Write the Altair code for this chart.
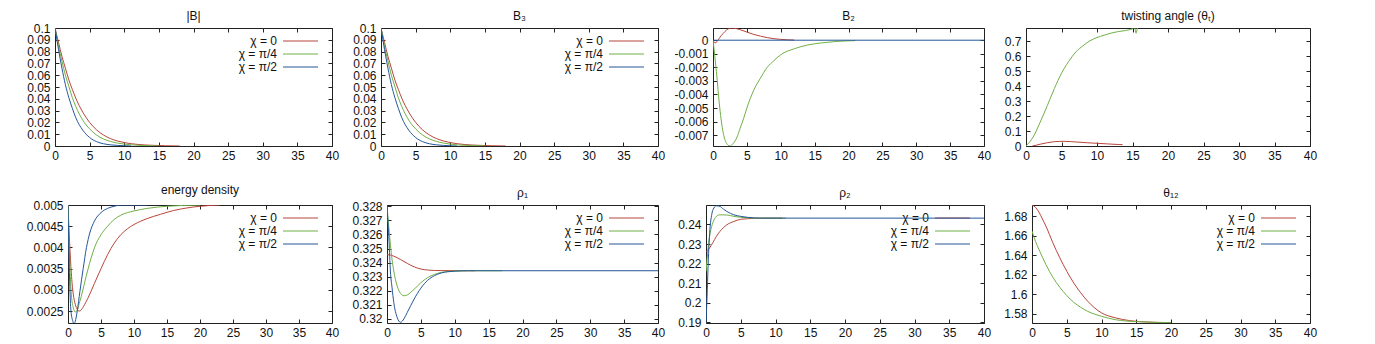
import altair as alt
import pandas as pd

FONT = "Liberation Sans"
FS = 12
NAMES = ["χ = 0", "χ = π/4", "χ = π/2"]
COLORS = ["#b8453a", "#70b046", "#24579a"]
XTICKS = [0, 5, 10, 15, 20, 25, 30, 35, 40]

# ---------------- |B| ----------------
absB_r_x = [0, 0.5, 1, 1.5, 2, 2.5, 3, 4, 5, 6, 7, 8, 9, 10, 12, 14, 16, 18]
absB_r_y = [0.1, 0.088, 0.076, 0.066, 0.056, 0.048, 0.0405, 0.0288, 0.020, 0.0137, 0.0093, 0.0063, 0.0043, 0.0029, 0.0013, 0.0006, 0.0002, 0.0]
absB_g_x = [0, 0.5, 1, 1.5, 2, 2.5, 3, 4, 5, 6, 7, 8, 9, 10, 12, 14, 15]
absB_g_y = [0.1, 0.085, 0.072, 0.06, 0.0505, 0.041, 0.0335, 0.022, 0.0145, 0.0093, 0.006, 0.0039, 0.0025, 0.0016, 0.0006, 0.0002, 0.0]
absB_b_x = [0, 0.5, 1, 1.5, 2, 2.5, 3, 4, 5, 6, 7, 8, 9, 10, 11]
absB_b_y = [0.1, 0.082, 0.066, 0.052, 0.041, 0.032, 0.024, 0.0135, 0.0072, 0.0037, 0.0019, 0.001, 0.0005, 0.0002, 0.0]

# ---------------- B3 ----------------
B3_r_x = [0, 0.5, 1, 1.5, 2, 2.5, 3, 4, 5, 6, 7, 8, 9, 10, 12, 14, 16, 18]
B3_r_y = [0.1, 0.088, 0.076, 0.066, 0.056, 0.048, 0.0405, 0.0288, 0.020, 0.0137, 0.0093, 0.0063, 0.0043, 0.0029, 0.0013, 0.0006, 0.0002, 0.0]
B3_g_x = [0, 0.5, 1, 1.5, 2, 2.5, 3, 4, 5, 6, 7, 8, 9, 10, 12, 14, 15]
B3_g_y = [0.1, 0.085, 0.072, 0.06, 0.0505, 0.041, 0.0335, 0.022, 0.0145, 0.0093, 0.006, 0.0039, 0.0025, 0.0016, 0.0006, 0.0002, 0.0]
B3_b_x = [0, 0.5, 1, 1.5, 2, 2.5, 3, 4, 5, 6, 7, 8, 9, 10, 11]
B3_b_y = [0.1, 0.082, 0.066, 0.052, 0.041, 0.032, 0.024, 0.0135, 0.0072, 0.0037, 0.0019, 0.001, 0.0005, 0.0002, 0.0]

# ---------------- B2 ----------------
B2_r_x = [0, 0.3, 0.6, 1, 1.5, 2, 2.7, 3.5, 4, 5, 6, 7, 8, 9, 10, 11, 12]
B2_r_y = [0.0, -0.0002, -0.0001, 0.0002, 0.0005, 0.00075, 0.0009, 0.00085, 0.00078, 0.0006, 0.00043, 0.0003, 0.00019, 0.00011, 0.00006, 0.00003, 0.00001]
B2_g_x = [0, 0.25, 0.5, 0.75, 1, 1.5, 2, 2.5, 3, 3.5, 4, 4.5, 5, 6, 7, 8, 9, 10, 12, 14, 16, 18, 21]
B2_g_y = [0.0, -0.0011, -0.0023, -0.0037, -0.005, -0.0068, -0.0076, -0.0078, -0.0076, -0.0072, -0.0065, -0.0058, -0.005, -0.0037, -0.0028, -0.002, -0.0015, -0.00107, -0.00063, -0.00035, -0.0002, -0.0001, -0.00003]
B2_b_x = [0, 40]
B2_b_y = [0.0, 0.0]

# ---------------- twisting angle ----------------
tw_r_x = [0.9, 1.5, 2, 3, 4, 4.7, 5.5, 7, 8.5, 10, 11.5, 13, 13.6]
tw_r_y = [0.0, 0.006, 0.012, 0.022, 0.029, 0.031, 0.031, 0.027, 0.022, 0.018, 0.014, 0.010, 0.009]
tw_g_x = [0, 1, 2, 3, 4, 5, 6, 7, 8, 9, 10, 11, 12, 13, 14, 14.5, 15, 15.3, 15.5, 15.7, 15.9]
tw_g_y = [0.0, 0.06, 0.16, 0.27, 0.385, 0.487, 0.565, 0.628, 0.67, 0.704, 0.726, 0.742, 0.756, 0.766, 0.773, 0.778, 0.785, 0.795, 0.755, 0.79, 0.80]

# ---------------- energy density ----------------
en_r_x = [0, 0.25, 0.5, 0.8, 1.1, 1.4, 1.7, 2.0, 2.5, 3, 4, 5, 6, 7, 8, 9, 10, 12, 14, 16, 18, 20, 23]
en_r_y = [0.005, 0.0041, 0.0034, 0.0029, 0.00266, 0.00254, 0.0025, 0.00253, 0.00265, 0.0028, 0.00315, 0.0035, 0.00383, 0.0041, 0.0043, 0.00444, 0.00454, 0.00468, 0.00478, 0.00487, 0.00493, 0.00497, 0.005]
en_g_x = [0, 0.15, 0.3, 0.5, 0.8, 1.1, 1.4, 1.7, 2, 2.5, 3, 3.5, 4, 5, 6, 7, 8, 9, 10, 12, 15, 20]
en_g_y = [0.005, 0.0042, 0.0035, 0.0029, 0.00258, 0.00248, 0.00252, 0.00268, 0.00284, 0.00316, 0.00347, 0.00375, 0.00399, 0.0043, 0.0045, 0.00466, 0.00476, 0.00482, 0.00486, 0.00492, 0.00497, 0.005]
en_b_x = [0, 0.1, 0.25, 0.45, 0.7, 0.9, 1.1, 1.4, 1.8, 2.3, 2.8, 3.3, 4, 5, 6, 7, 8, 12]
en_b_y = [0.005, 0.0042, 0.0032, 0.0025, 0.00228, 0.0022, 0.00226, 0.0025, 0.00296, 0.0035, 0.004, 0.00434, 0.00462, 0.00482, 0.00492, 0.00497, 0.005, 0.005]

# ---------------- rho1 ----------------
r1_r_x = [0, 1, 2, 3, 4, 5, 6, 7, 8, 13]
r1_r_y = [0.32458, 0.32446, 0.32422, 0.32394, 0.3237, 0.32354, 0.32347, 0.32344, 0.32343, 0.32342]
r1_g_x = [0, 0.25, 0.5, 0.75, 1, 1.5, 2, 2.5, 3, 3.5, 4, 5, 6, 7, 8, 9, 10, 12, 17]
r1_g_y = [0.328, 0.3266, 0.3253, 0.3242, 0.3234, 0.32234, 0.3218, 0.32164, 0.3217, 0.32188, 0.3221, 0.32257, 0.32293, 0.32316, 0.3233, 0.32337, 0.3234, 0.32342, 0.32342]
r1_b_x = [0, 0.15, 0.3, 0.5, 0.75, 1, 1.5, 2, 2.5, 3, 4, 5, 6, 7, 8, 9, 10, 12, 40]
r1_b_y = [0.328, 0.3268, 0.3255, 0.3234, 0.3222, 0.32117, 0.3201, 0.31975, 0.32, 0.32046, 0.3214, 0.32218, 0.32274, 0.32307, 0.32326, 0.32335, 0.32339, 0.32342, 0.32342]

# ---------------- rho2 ----------------
r2_r_x = [0, 0.5, 1, 1.5, 2, 2.5, 3, 4, 5, 6, 7, 8, 11]
r2_r_y = [0.2257, 0.2279, 0.2308, 0.2339, 0.2364, 0.2383, 0.2398, 0.2415, 0.2426, 0.2429, 0.2431, 0.2432, 0.2432]
r2_g_x = [0, 0.15, 0.3, 0.6, 1, 1.5, 2, 3, 4, 5, 6, 7, 11.5]
r2_g_y = [0.216, 0.222, 0.228, 0.2356, 0.241, 0.2441, 0.2449, 0.2448, 0.2441, 0.2436, 0.2434, 0.2432, 0.2432]
r2_b_x = [0, 0.15, 0.3, 0.45, 0.6, 0.8, 1, 1.5, 2, 2.5, 3, 4, 5, 6, 8, 40]
r2_b_y = [0.1897, 0.203, 0.2186, 0.231, 0.239, 0.2445, 0.2475, 0.2495, 0.2492, 0.2478, 0.2466, 0.2449, 0.2441, 0.2436, 0.2432, 0.2432]

# ---------------- theta12 ----------------
t12_r_x = [0, 0.5, 1, 1.5, 2, 3, 4, 5, 6, 7, 8, 9, 10, 12, 14, 16, 18, 20]
t12_r_y = [1.6912, 1.689, 1.684, 1.677, 1.6697, 1.6526, 1.6372, 1.6235, 1.6115, 1.6014, 1.5928, 1.5859, 1.5808, 1.5757, 1.5729, 1.5716, 1.571, 1.5708]
t12_g_x = [0, 0.5, 1, 2, 3, 4, 5, 6, 7, 8, 10, 12, 15, 20]
t12_g_y = [1.6646, 1.654, 1.6458, 1.6303, 1.6173, 1.607, 1.5985, 1.5916, 1.5865, 1.5824, 1.5773, 1.5738, 1.5718, 1.5708]

# tick values
yt_B = [0, 0.01, 0.02, 0.03, 0.04, 0.05, 0.06, 0.07, 0.08, 0.09, 0.1]
yt_B2 = [0, -0.001, -0.002, -0.003, -0.004, -0.005, -0.006, -0.007]
yt_tw = [0, 0.1, 0.2, 0.3, 0.4, 0.5, 0.6, 0.7]
yt_en = [0.0025, 0.003, 0.0035, 0.004, 0.0045, 0.005]
yt_r1 = [0.32, 0.321, 0.322, 0.323, 0.324, 0.325, 0.326, 0.327, 0.328]
yt_r2 = [0.19, 0.2, 0.21, 0.22, 0.23, 0.24]
yt_t12 = [1.58, 1.6, 1.62, 1.64, 1.66, 1.68]

H = 118
LBL = "'' + datum.value"


def panel(title, series, ydom, yticks, W, legend=True, title_y=-8):
    rows = []
    for name, xs, ys in series:
        for a, b in zip(xs, ys):
            rows.append({"x": a, "y": b, "s": name})
    df = pd.DataFrame(rows)
    xsc = alt.Scale(domain=[0, 40], nice=False, zero=False)
    ysc = alt.Scale(domain=ydom, nice=False, zero=False)
    col = alt.Color("s:N", scale=alt.Scale(domain=NAMES, range=COLORS), legend=None)
    base = alt.Chart(df)
    lines = base.mark_line(strokeWidth=1, clip=True, interpolate="monotone").encode(
        x=alt.X("x:Q", scale=xsc, axis=alt.Axis(orient="bottom", values=XTICKS, labelExpr=LBL,
                                                 tickSize=4, offset=-4, labelPadding=4,
                                                 labelOverlap=False, labelFlush=False,
                                                 domain=False, grid=False, title=None)),
        y=alt.Y("y:Q", scale=ysc, axis=alt.Axis(orient="left", values=yticks, labelExpr=LBL,
                                                 tickSize=4, offset=-4, labelPadding=5,
                                                 labelOverlap=False, labelFlush=False,
                                                 domain=False, grid=False, title=None)),
        color=col,
    )
    ghost = base.mark_line(opacity=0).encode(
        x=alt.X("x:Q", scale=xsc, axis=alt.Axis(orient="top", values=XTICKS, labels=False,
                                                 tickSize=4, offset=-4, domain=False, grid=False,
                                                 title=None, minExtent=0, maxExtent=0)),
        y=alt.Y("y:Q", scale=ysc, axis=alt.Axis(orient="right", values=yticks, labels=False,
                                                 tickSize=4, offset=-4, domain=False, grid=False,
                                                 title=None, minExtent=0, maxExtent=0)),
        detail="s:N",
    )
    ttl = alt.Chart(pd.DataFrame({"t": [title]})).mark_text(
        align="center", baseline="alphabetic", fontSize=FS, font=FONT, color="#111"
    ).encode(text="t:N", x=alt.value(W / 2), y=alt.value(title_y))
    layers = [ttl]
    if legend:
        for i, (name, c) in enumerate(zip(NAMES, COLORS)):
            yy = 13 + 13 * i
            d = pd.DataFrame({"t": [name]})
            layers.append(alt.Chart(d).mark_text(align="right", baseline="middle", fontSize=FS,
                                                 font=FONT, color="#111").encode(
                text="t:N", x=alt.value(W - 55), y=alt.value(yy)))
            layers.append(alt.Chart(d).mark_rule(color=c, strokeWidth=1).encode(
                x=alt.value(W - 49), x2=alt.value(W - 14), y=alt.value(yy)))
    layers += [lines, ghost]
    return alt.layer(*layers).resolve_axis(x="independent", y="independent").properties(
        width=W, height=H)


def spacer(w):
    return alt.Chart(pd.DataFrame({"a": [0]})).mark_point(opacity=0).encode(
        x=alt.value(0), y=alt.value(0)
    ).properties(width=w, height=1, view=alt.ViewBackground(stroke="transparent", fill="transparent"))


p1 = panel("|B|", [(NAMES[0], absB_r_x, absB_r_y), (NAMES[1], absB_g_x, absB_g_y), (NAMES[2], absB_b_x, absB_b_y)],
           [0, 0.1], yt_B, 277)
p2 = panel("B₃", [(NAMES[0], B3_r_x, B3_r_y), (NAMES[1], B3_g_x, B3_g_y), (NAMES[2], B3_b_x, B3_b_y)],
           [0, 0.1], yt_B, 277)
p3 = panel("B₂", [(NAMES[0], B2_r_x, B2_r_y), (NAMES[1], B2_g_x, B2_g_y), (NAMES[2], B2_b_x, B2_b_y)],
           [-0.0078, 0.0009], yt_B2, 271, legend=False)
p4 = panel("twisting angle (θₜ)", [(NAMES[0], tw_r_x, tw_r_y), (NAMES[1], tw_g_x, tw_g_y)],
           [0, 0.79], yt_tw, 284, legend=False)
p5 = panel("energy density", [(NAMES[0], en_r_x, en_r_y), (NAMES[1], en_g_x, en_g_y), (NAMES[2], en_b_x, en_b_y)],
           [0.00222, 0.005], yt_en, 264, title_y=-11)
p6 = panel("ρ₁", [(NAMES[0], r1_r_x, r1_r_y), (NAMES[1], r1_g_x, r1_g_y), (NAMES[2], r1_b_x, r1_b_y)],
           [0.3197, 0.3281], yt_r1, 271)
p7 = panel("ρ₂", [(NAMES[0], r2_r_x, r2_r_y), (NAMES[1], r2_g_x, r2_g_y), (NAMES[2], r2_b_x, r2_b_y)],
           [0.1897, 0.2499], yt_r2, 278)
p8 = panel("θ₁₂", [(NAMES[0], t12_r_x, t12_r_y), (NAMES[1], t12_g_x, t12_g_y)],
           [1.5704, 1.6913], yt_t12, 278)

row1 = alt.hconcat(spacer(43), p1, spacer(49), p2, spacer(55), p3, spacer(42), p4,
                   spacing=0, bounds="flush")
row2 = alt.hconcat(spacer(56), p5, spacer(55), p6, spacer(48), p7, spacer(48), p8,
                   spacing=0, bounds="flush")

chart = alt.vconcat(row1, row2, spacing=177, bounds="flush").properties(
    padding={"left": 0, "top": 1, "right": 0, "bottom": 0}
).configure_view(stroke="#222", strokeWidth=1).configure_axis(
    labelFont=FONT, labelFontSize=FS, labelColor="#111", tickColor="#222", tickWidth=1
)

chart.save("out.html", embed_options={"renderer": "svg", "actions": False})
